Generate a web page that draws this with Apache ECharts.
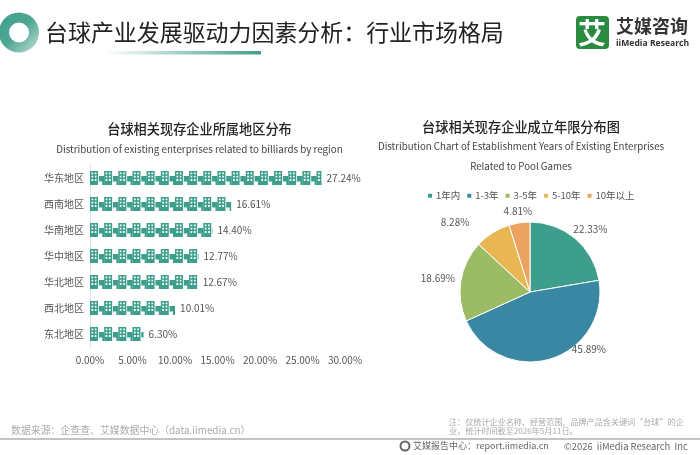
<!DOCTYPE html>
<html><head><meta charset="utf-8">
<style>html,body{margin:0;padding:0;background:#fff}#c{width:700px;height:455px}</style>
<script src="https://cdn.jsdelivr.net/npm/echarts@6/dist/echarts.min.js"></script>
</head><body><div id="c"></div>
<script>
const regions = ['华东地区','西南地区','华南地区','华中地区','华北地区','西北地区','东北地区'];
const regionValues = [27.24,16.61,14.40,12.77,12.67,10.01,6.30];
const xTicks = [0,5,10,15,20,25,30];
const yearNames = ['1年内','1-3年','3-5年','5-10年','10年以上'];
const yearValues = [22.33,45.89,18.69,8.28,4.81];
const yearColors = ['#3d9f8b','#3a87a3','#9bbb65','#e8b754','#eba35f'];
const mainTitle = '台球产业发展驱动力因素分析\uFF1A行业市场格局';
const leftTitle = '台球相关现存企业所属地区分布';
const leftSub = 'Distribution of existing enterprises related to billiards by region';
const rightTitle = '台球相关现存企业成立年限分布图';
const rightSub = 'Distribution Chart of Establishment Years of Existing Enterprises\nRelated to Pool Games';
const sourceText = '数据来源\uFF1A企查查、艾媒数据中心\uFF08data.iimedia.cn\uFF09';
const noteText = '注\uFF1A仅统计企业名称、经营范围、品牌产品含关键词“台球”的企\n业\uFF0C统计时间截至2026年5月11日。';
const footCenter = '艾媒报告中心\uFF1Areport.iimedia.cn';
const footCopy = '©2026  iiMedia Research  Inc';
const pieLabelNudge = [[-12,-3],[14,-17],[7,-1],[-14,-4],[19,-4]];
const FF = '"Noto Sans CJK SC","Noto Sans",sans-serif';
const building = 'path://M0 0H8V14H0Z M1.5 1.5V3.3H3.2V1.5Z M4.8 1.5V3.3H6.5V1.5Z M1.5 4.8V6.6H3.2V4.8Z M4.8 4.8V6.6H6.5V4.8Z M1.5 8.1V9.9H3.2V8.1Z M4.8 8.1V9.9H6.5V8.1Z M8.8 5H14.3V14H12.2V10.5H8.8Z';
const txt = (x,y,text,fontSize,fill,extra) => ({type:'text',x,y,style:Object.assign({text,fontSize,fill,fontFamily:FF,verticalAlign:'middle'},extra||{})});
const chart = echarts.init(document.getElementById('c'),null,{renderer:'canvas'});
chart.setOption({
  animation:false,
  backgroundColor:'#fff',
  grid:{left:90,right:355,top:165,bottom:108,containLabel:false},
  xAxis:{type:'value',min:0,max:30,interval:5,splitLine:{show:false},axisLine:{show:false},axisTick:{show:false},
    axisLabel:{fontFamily:FF,fontSize:10,color:'#555',margin:8,formatter:v=>v.toFixed(2)+'%'}},
  yAxis:{type:'category',inverse:true,data:regions,axisTick:{show:false},axisLine:{show:true,lineStyle:{color:'#e2e2e2',width:1}},
    axisLabel:{fontFamily:FF,fontSize:10,color:'#555',margin:6}},
  legend:{data:yearNames,left:426,top:191,padding:0,itemWidth:6,itemHeight:6,itemGap:5,icon:'rect',
    textStyle:{fontFamily:FF,fontSize:9.5,color:'#555',padding:[0,0,0,-2]}},
  series:[
    {type:'pictorialBar',data:regionValues,symbol:building,symbolRepeat:true,symbolClip:true,symbolMargin:0,symbolSize:[14.3,14],
     symbolOffset:[0,0],symbolPosition:'start',itemStyle:{color:'#3d9f8b'},barCategoryGap:'40%',z:2},
    {type:'bar',data:regionValues,barGap:'-100%',barCategoryGap:'40%',itemStyle:{color:'rgba(0,0,0,0)'},z:3,
     label:{show:true,position:'right',distance:5,fontFamily:FF,fontSize:10,color:'#555',formatter:p=>p.value.toFixed(2)+'%'}},
    {type:'pie',center:[530,292],radius:[0,70],startAngle:90,clockwise:true,
     data:yearNames.map((n,i)=>({name:n,value:yearValues[i],itemStyle:{color:yearColors[i]}})),
     itemStyle:{borderColor:'#fff',borderWidth:1},
     label:{show:true,position:'outside',fontFamily:FF,fontSize:10,color:'#555',formatter:p=>p.value.toFixed(2)+'%'},
     labelLine:{show:false,length:8,length2:0},avoidLabelOverlap:false,
     labelLayout:p=>({dx:pieLabelNudge[p.dataIndex][0],dy:pieLabelNudge[p.dataIndex][1]})}
  ],
  graphic:[
    {type:'ring',shape:{cx:19,cy:32.5,r:20,r0:10},style:{fill:new echarts.graphic.LinearGradient(0,0,1,1,[{offset:0,color:'#3d9f8b'},{offset:.5,color:'#4fa792'},{offset:1,color:'#c9e0da'}])}},
    {type:'rect',shape:{x:105,y:51,width:156,height:3.5},style:{fill:new echarts.graphic.LinearGradient(0,0,1,0,[{offset:0,color:'rgba(61,159,139,0)'},{offset:1,color:'#3d9f8b'}])}},
    txt(45,32,mainTitle,22.95,'#222'),
    {type:'rect',shape:{x:576,y:16,width:33,height:33,r:4},style:{fill:'#2a8a3f'}},
    txt(578,33,'艾',28,'#fff',{fontWeight:'bold'}),
    txt(616,26,'艾媒咨询',18,'#333',{fontWeight:'bold'}),
    txt(616,43.5,'iiMedia Research',8.6,'#333',{fontWeight:'bold',fontFamily:'"Open Sans",sans-serif'}),
    txt(199.5,129,leftTitle,13.2,'#222',{align:'center',fontWeight:500}),
    txt(199.5,149,leftSub,9.8,'#444',{align:'center'}),
    txt(521,127,rightTitle,13.2,'#222',{align:'center',fontWeight:500}),
    txt(521,156,rightSub,9.7,'#444',{align:'center',lineHeight:20}),
    txt(11,430,sourceText,9.9,'#aaa'),
    txt(449,426.5,noteText,8.1,'#aaa',{lineHeight:9.5}),
    {type:'rect',shape:{x:0,y:438.5,width:700,height:1},style:{fill:'#8a8a8a'}},
    {type:'ring',shape:{cx:405,cy:446,r:5.5,r0:3.5},style:{fill:'#666'}},
    txt(413,446,footCenter,9,'#666'),
    txt(564,446,footCopy,9.4,'#666')
  ]
});
</script></body></html>
